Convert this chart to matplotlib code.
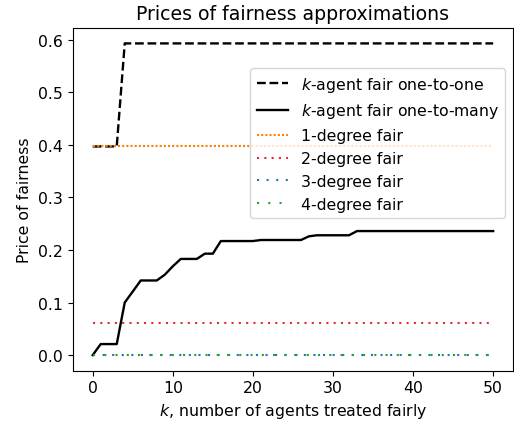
import matplotlib
matplotlib.use('Agg')
import matplotlib.pyplot as plt

k_values = list(range(0, 51))

# price of fairness, k-agent fair one-to-one
one_to_one = [0.397] * 4 + [0.593] * 47

# price of fairness, k-agent fair one-to-many
one_to_many = ([0.0, 0.021, 0.021, 0.021, 0.100, 0.121, 0.142, 0.142, 0.142,
                0.153, 0.169, 0.183, 0.183, 0.183, 0.193, 0.193]
               + [0.217] * 5 + [0.219] * 6 + [0.226] + [0.228] * 5 + [0.236] * 18)

degree_labels = ['1-degree fair', '2-degree fair', '3-degree fair', '4-degree fair']
degree_prices = [0.397, 0.062, 0.0, 0.0]
degree_colors = ['#ff7f0e', '#e8283f', '#1f77b4', '#2ca02c']
degree_dashes = [(0, (1, 1)), (0, (1, 2.5)), (0, (1, 3.6)), (0, (1, 4.4))]


def main():
    plt.rcParams['font.size'] = 11.3
    fig = plt.figure(figsize=(5.14, 4.27), dpi=100)
    ax = fig.add_axes([0.1414, 0.1295, 0.857, 0.803])

    ax.plot(k_values, one_to_one, color='black', linestyle='--', lw=1.7,
            label='$k$-agent fair one-to-one')
    ax.plot(k_values, one_to_many, color='black', linestyle='-', lw=1.7,
            label='$k$-agent fair one-to-many')
    for label, price, color, dash in zip(degree_labels, degree_prices, degree_colors, degree_dashes):
        ax.plot(k_values, [price] * len(k_values), color=color, linestyle=dash,
                lw=1.5, label=label)

    ax.set_title('Prices of fairness approximations')
    ax.set_xlabel('$k$, number of agents treated fairly')
    ax.set_ylabel('Price of fairness')
    ax.legend(loc='upper right', bbox_to_anchor=(1.0, 0.905))

    fig.savefig('out.png', dpi=100)


if __name__ == '__main__':
    main()
